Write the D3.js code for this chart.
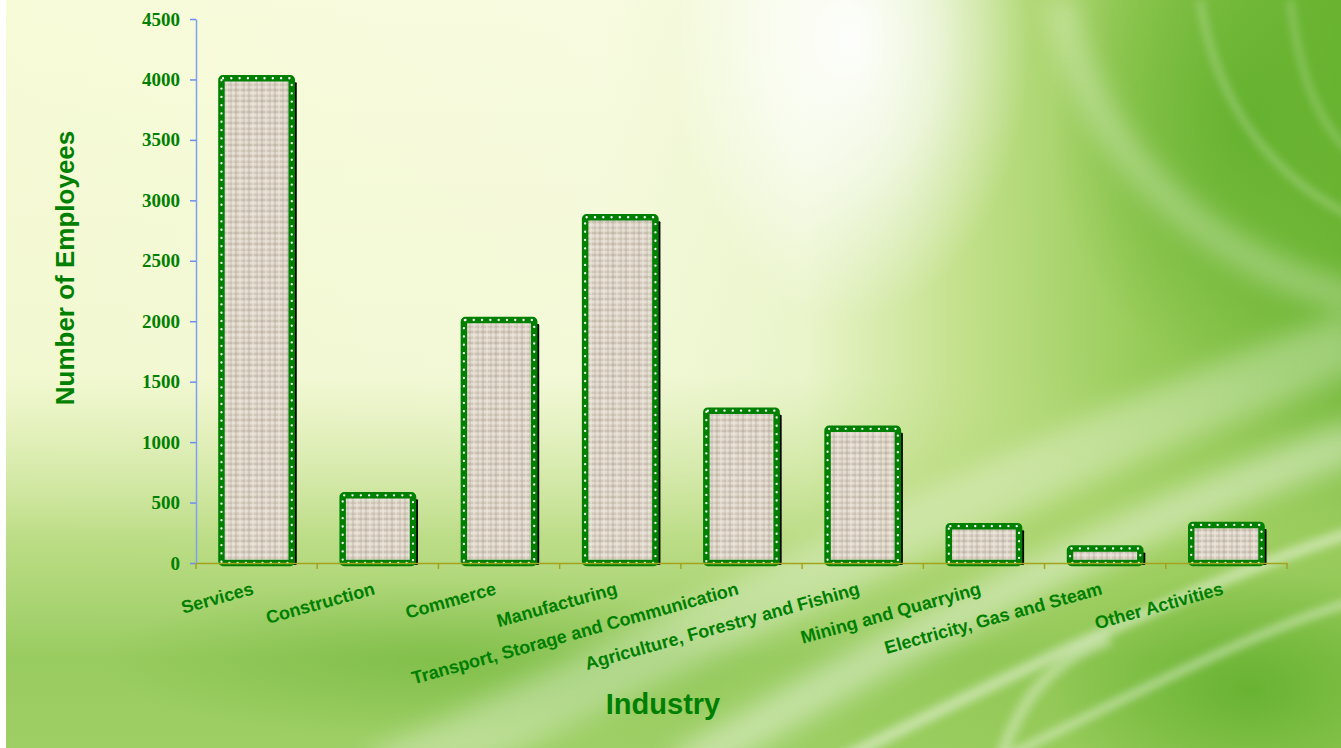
<!DOCTYPE html>
<html><head><meta charset="utf-8">
<script src="https://cdn.jsdelivr.net/npm/d3@7"></script>
<style>html,body{margin:0;padding:0;overflow:hidden;background:#fff}</style>
</head><body><svg id="chart" width="1341" height="748"></svg>
<script>
const categories = ["Services","Construction","Commerce","Manufacturing","Transport, Storage and Communication","Agriculture, Forestry and Fishing","Mining and Quarrying","Electricity, Gas and Steam","Other Activities"];
const employees = [4010, 560, 2010, 2860, 1260, 1110, 305, 120, 315];
const yTickValues = [0, 500, 1000, 1500, 2000, 2500, 3000, 3500, 4000, 4500];
const xTitle = "Industry";
const yTitle = "Number of Employees";

const W = 1341, H = 748;
const svg = d3.select("#chart");
const defs = svg.append("defs");

// background gradients
const gH = defs.append("linearGradient").attr("id","bgH").attr("x1",0).attr("x2",1).attr("y1",0).attr("y2",0);
[[0,"#f7fbd8"],[0.45,"#f8fbe0"],[0.6,"#eef7d2"],[0.72,"#c2e08a"],[0.85,"#94ca55"],[1,"#6cb532"]].forEach(s=>gH.append("stop").attr("offset",s[0]).attr("stop-color",s[1]));
const gV = defs.append("linearGradient").attr("id","bgV").attr("x1",0).attr("x2",0).attr("y1",0).attr("y2",1);
[[0,"#b9dc7c",0],[0.5,"#c4e08c",0.1],[0.72,"#a8d36a",0.75],[0.88,"#8ec653",0.9],[1,"#94ca58",0.9]].forEach(s=>gV.append("stop").attr("offset",s[0]).attr("stop-color",s[1]).attr("stop-opacity",s[2]));
const gR = defs.append("radialGradient").attr("id","glow");
[[0,"#ffffff",0.95],[0.5,"#ffffff",0.6],[1,"#ffffff",0]].forEach(s=>gR.append("stop").attr("offset",s[0]).attr("stop-color",s[1]).attr("stop-opacity",s[2]));
const gR2 = defs.append("radialGradient").attr("id","greenGlow");
[[0,"#5fae2a",0.8],[1,"#5fae2a",0]].forEach(s=>gR2.append("stop").attr("offset",s[0]).attr("stop-color",s[1]).attr("stop-opacity",s[2]));
defs.append("filter").attr("id","blur").attr("x","-50%").attr("y","-50%").attr("width","200%").attr("height","200%")
  .append("feGaussianBlur").attr("stdDeviation",12);
defs.append("filter").attr("id","blurS").attr("x","-50%").attr("y","-50%").attr("width","200%").attr("height","200%")
  .append("feGaussianBlur").attr("stdDeviation",4);

const bg = svg.append("g");
bg.append("rect").attr("width",W).attr("height",H).attr("fill","url(#bgH)");
bg.append("rect").attr("width",W).attr("height",H).attr("fill","url(#bgV)");
bg.append("ellipse").attr("cx",1250).attr("cy",120).attr("rx",200).attr("ry",260).attr("fill","url(#greenGlow)");
bg.append("ellipse").attr("cx",1250).attr("cy",690).attr("rx",200).attr("ry",120).attr("fill","url(#greenGlow)");
bg.append("ellipse").attr("cx",430).attr("cy",660).attr("rx",330).attr("ry",80).attr("fill","url(#greenGlow)").attr("opacity",0.5);
bg.append("ellipse").attr("cx",850).attr("cy",40).attr("rx",180).attr("ry",280).attr("fill","url(#glow)");
const streaks = [
  ["M 380 780 C 700 640, 980 480, 1360 340", 60, 0.3, "blur"],
  ["M 680 770 C 920 630, 1130 520, 1360 440", 40, 0.4, "blur"],
  ["M 840 760 C 1060 650, 1230 570, 1360 530", 12, 0.45, "blurS"],
  ["M 1000 760 C 1160 680, 1280 620, 1360 600", 8, 0.45, "blurS"],
  ["M 1060 0 C 1090 150, 1200 260, 1360 300", 30, 0.28, "blur"],
  ["M 1200 0 C 1215 100, 1270 180, 1360 220", 6, 0.3, "blurS"],
  ["M 1290 0 C 1300 80, 1320 130, 1360 160", 5, 0.3, "blurS"],
  ["M 1000 760 C 1020 700, 1050 660, 1110 640", 12, 0.35, "blurS"]
];
streaks.forEach(s=>bg.append("path").attr("d",s[0]).attr("fill","none").attr("stroke","#fff").attr("stroke-width",s[1]).attr("opacity",s[2]).attr("filter",`url(#${s[3]})`));
bg.append("rect").attr("width",6).attr("height",H).attr("fill","#fff");

// linen texture
const pat = defs.append("pattern").attr("id","linen").attr("patternUnits","userSpaceOnUse").attr("width",13).attr("height",11);
pat.append("rect").attr("width",13).attr("height",11).attr("fill","#ddd4c6");
[[0,2,13,2,"#aaa093",0.7],[0,5,13,5,"#f3eee6",0.9],[0,8,13,8,"#b9b0a3",0.6],[0,10,13,10,"#efe9df",0.7],
 [2,0,2,11,"#a89e91",0.6],[6,0,6,11,"#f1ece3",0.8],[10,0,10,11,"#b3aa9d",0.5],[12,0,12,11,"#ece6dc",0.6]]
 .forEach(l=>pat.append("line").attr("x1",l[0]).attr("y1",l[1]).attr("x2",l[2]).attr("y2",l[3]).attr("stroke",l[4]).attr("stroke-opacity",l[5]).attr("stroke-width",1));

// scales
const x = d3.scaleBand().domain(categories).range([196,1287]).paddingInner(0.42).paddingOuter(0.21);
const y = d3.scaleLinear().domain([0,4500]).range([563,19]);
const green = "#008000";

// bars
const bars = svg.append("g");
const bw = x.bandwidth();
bars.selectAll("rect.shadow").data(employees).join("rect").attr("class","shadow")
  .attr("x",(d,i)=>x(categories[i])+5).attr("y",d=>y(d)+4)
  .attr("width",bw).attr("height",d=>y(0)-y(d)-2).attr("fill","#000").attr("rx",1);
bars.selectAll("rect.bar").data(employees).join("rect").attr("class","bar")
  .attr("x",(d,i)=>x(categories[i])).attr("y",d=>y(d))
  .attr("width",bw).attr("height",d=>y(0)-y(d))
  .attr("fill","url(#linen)").attr("stroke",green).attr("stroke-width",6.5).attr("rx",1.5);
bars.selectAll("rect.dots").data(employees).join("rect").attr("class","dots")
  .attr("x",(d,i)=>x(categories[i])).attr("y",d=>y(d))
  .attr("width",bw).attr("height",d=>y(0)-y(d))
  .attr("fill","none").attr("stroke","#fff").attr("stroke-width",2.3)
  .attr("stroke-dasharray","0.1 8.2").attr("stroke-linecap","round").attr("rx",1.5);

// y axis
const yAxis = svg.append("g").attr("transform","translate(196,0)")
  .call(d3.axisLeft(y).tickValues(yTickValues).tickSize(6).tickSizeOuter(0).tickPadding(10).tickFormat(d3.format("d")));
yAxis.select(".domain").attr("stroke","#7f9ff2").attr("stroke-width",1.5);
yAxis.selectAll(".tick line").attr("stroke","#6b8df0").attr("stroke-width",1.5);
yAxis.selectAll(".tick text").attr("fill",green).attr("font-family","'Liberation Serif','Times New Roman',serif")
  .attr("font-weight","bold").attr("font-size",19);

// x axis
const xAxis = svg.append("g").attr("transform","translate(0,563)")
  .call(d3.axisBottom(x).tickSize(0).tickSizeOuter(0));
xAxis.select(".domain").attr("stroke","#a3a31e").attr("stroke-width",1.5);
xAxis.selectAll(".tick text").attr("fill",green)
  .attr("font-family","'Liberation Sans',Arial,sans-serif").attr("font-weight","bold").attr("font-size",18)
  .attr("text-anchor","end").attr("x",0).attr("y",0).attr("dy",0)
  .attr("transform","translate(-2,31) rotate(-15.5)");
const bounds = categories.map(c=>x(c)-x.step()*x.paddingInner()/2).concat([x(categories[categories.length-1])+bw+x.step()*x.paddingInner()/2]);
xAxis.selectAll("line.bnd").data(bounds).join("line").attr("class","bnd")
  .attr("x1",d=>d).attr("x2",d=>d).attr("y1",0).attr("y2",6).attr("stroke","#a3a31e").attr("stroke-width",1.5);

// titles
svg.append("text").attr("x",663).attr("y",714).attr("text-anchor","middle")
  .attr("fill",green).attr("font-family","'Liberation Sans',Arial,sans-serif").attr("font-weight","bold").attr("font-size",29)
  .text(xTitle);
svg.append("text").attr("transform","translate(74,268) rotate(-90)").attr("text-anchor","middle")
  .attr("fill",green).attr("font-family","'Liberation Sans',Arial,sans-serif").attr("font-weight","bold").attr("font-size",26)
  .text(yTitle);
</script></body></html>
